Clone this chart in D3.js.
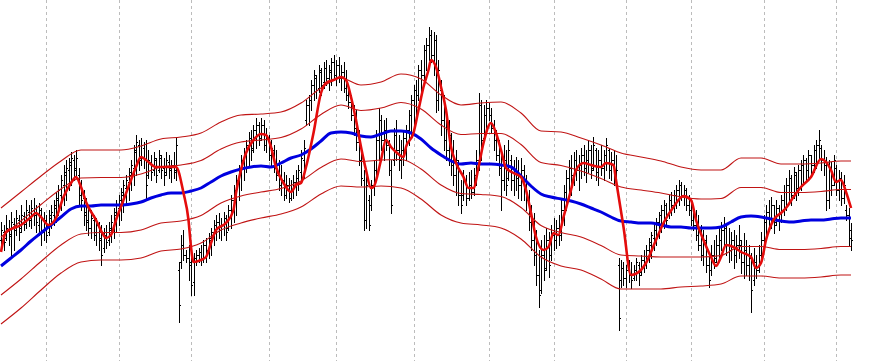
<!DOCTYPE html>
<html>
<head>
<meta charset="utf-8">
<script src="https://cdnjs.cloudflare.com/ajax/libs/d3/7.8.5/d3.min.js"></script>
<style>
body{margin:0;background:#fff;}
svg{display:block;}
</style>
</head>
<body>
<script>
// price bars in points (x 0.0001): [open, high, low, close]
var bars=[
[13760,13778,13752,13770],[13768,13775,13750,13758],[13762,13785,13760,13772],[13770,13780,13755,13764],[13766,13788,13745,13778],
[13776,13782,13750,13770],[13770,13790,13765,13782],[13780,13785,13760,13768],[13772,13795,13768,13785],[13784,13788,13770,13778],
[13776,13800,13772,13790],[13788,13795,13774,13782],[13780,13800,13772,13792],[13790,13802,13775,13785],[13788,13795,13768,13778],
[13775,13797,13765,13790],[13785,13792,13755,13770],[13768,13788,13760,13780],[13778,13785,13758,13765],[13768,13790,13765,13785],
[13782,13795,13772,13788],[13785,13800,13775,13795],[13792,13808,13778,13802],[13800,13815,13785,13810],[13805,13825,13790,13820],
[13815,13835,13795,13828],[13825,13840,13800,13832],[13830,13842,13810,13838],[13835,13848,13815,13842],[13840,13845,13820,13830],
[13832,13850,13822,13842],[13825,13832,13795,13805],[13805,13820,13790,13800],[13802,13810,13775,13785],[13788,13802,13770,13778],
[13780,13795,13765,13772],[13772,13790,13762,13782],[13780,13785,13760,13765],[13768,13782,13755,13775],[13774,13778,13750,13760],
[13762,13775,13735,13745],[13752,13772,13748,13765],[13762,13775,13752,13758],[13760,13778,13755,13772],[13770,13785,13758,13778],
[13775,13792,13762,13788],[13785,13800,13768,13795],[13792,13805,13775,13800],[13795,13812,13780,13808],[13805,13820,13788,13815],
[13812,13825,13795,13820],[13818,13832,13800,13828],[13825,13840,13810,13835],[13832,13855,13815,13850],[13848,13865,13825,13858],
[13855,13860,13830,13840],[13842,13862,13835,13855],[13852,13858,13832,13840],[13840,13860,13802,13815],[13825,13850,13822,13840],
[13838,13845,13820,13828],[13830,13848,13825,13842],[13840,13842,13818,13825],[13830,13850,13828,13845],[13842,13845,13822,13830],
[13832,13842,13815,13825],[13828,13848,13825,13840],[13838,13845,13822,13832],[13830,13840,13818,13835],[13835,13848,13822,13830],
[13828,13863,13820,13855],[13730,13738,13678,13695],[13738,13765,13732,13755],[13755,13770,13740,13745],[13745,13750,13738,13742],
[13742,13755,13720,13735],[13738,13752,13705,13715],[13718,13747,13705,13742],[13742,13750,13735,13745],[13745,13752,13738,13748],
[13748,13755,13735,13742],[13742,13760,13738,13755],[13755,13762,13738,13750],[13750,13767,13742,13762],[13760,13772,13745,13768],
[13768,13780,13755,13775],[13775,13785,13760,13778],[13778,13787,13762,13770],[13770,13782,13760,13775],[13775,13788,13765,13782],
[13782,13785,13760,13768],[13772,13795,13770,13790],[13790,13805,13772,13800],[13800,13815,13778,13810],[13810,13825,13785,13820],
[13820,13835,13800,13830],[13830,13845,13810,13840],[13840,13852,13820,13848],[13848,13860,13828,13855],[13855,13868,13835,13862],
[13862,13870,13840,13850],[13852,13875,13848,13870],[13870,13882,13852,13875],[13875,13878,13855,13860],[13862,13882,13860,13875],
[13875,13880,13850,13855],[13855,13872,13848,13865],[13862,13865,13840,13845],[13845,13860,13835,13852],[13850,13855,13828,13832],
[13832,13850,13820,13825],[13825,13840,13810,13815],[13815,13835,13805,13820],[13820,13828,13800,13805],[13805,13825,13802,13815],
[13815,13822,13798,13802],[13802,13820,13800,13810],[13810,13825,13802,13818],[13818,13830,13805,13822],[13822,13835,13810,13830],
[13828,13850,13818,13842],[13840,13860,13822,13852],[13880,13900,13875,13895],[13895,13905,13875,13900],[13900,13920,13890,13915],
[13915,13930,13900,13925],[13922,13925,13902,13910],[13912,13935,13908,13930],[13928,13932,13905,13915],[13918,13938,13912,13932],
[13932,13940,13915,13922],[13922,13935,13910,13930],[13928,13942,13915,13938],[13938,13945,13920,13925],[13925,13940,13915,13935],
[13935,13943,13918,13922],[13922,13935,13910,13928],[13928,13938,13908,13912],[13912,13930,13900,13905],[13905,13915,13892,13898],
[13898,13905,13880,13885],[13885,13895,13865,13872],[13872,13890,13850,13858],[13858,13870,13835,13840],[13840,13855,13815,13822],
[13820,13830,13770,13780],[13780,13825,13772,13815],[13800,13805,13770,13775],[13795,13820,13790,13815],[13815,13840,13805,13830],
[13830,13870,13825,13860],[13860,13892,13840,13880],[13880,13885,13850,13860],[13860,13880,13840,13870],[13870,13882,13850,13855],
[13855,13860,13825,13830],[13830,13840,13787,13795],[13840,13872,13835,13865],[13865,13880,13840,13850],[13850,13865,13830,13840],
[13840,13860,13822,13850],[13850,13870,13835,13862],[13862,13875,13840,13870],[13870,13890,13855,13885],[13885,13905,13865,13900],
[13900,13915,13875,13910],[13910,13920,13885,13905],[13905,13935,13900,13930],[13930,13940,13905,13925],[13925,13955,13920,13950],
[13950,13962,13930,13955],[13955,13973,13940,13965],[13965,13970,13938,13945],[13945,13968,13925,13960],[13960,13965,13888,13900],
[13900,13940,13890,13930],[13910,13920,13865,13880],[13880,13905,13850,13860],[13860,13890,13840,13850],[13850,13880,13835,13865],
[13860,13867,13825,13835],[13835,13860,13815,13825],[13825,13850,13805,13840],[13835,13840,13795,13805],[13805,13820,13787,13795],
[13805,13830,13800,13820],[13820,13825,13795,13802],[13802,13828,13800,13815],[13815,13830,13802,13808],[13808,13832,13805,13825],
[13825,13850,13815,13840],[13840,13907,13830,13895],[13895,13900,13840,13860],[13862,13895,13860,13885],[13885,13900,13870,13892],
[13892,13897,13880,13885],[13885,13892,13867,13872],[13872,13880,13850,13860],[13860,13870,13840,13845],[13845,13860,13825,13832],
[13832,13850,13790,13820],[13820,13855,13810,13840],[13840,13850,13805,13815],[13822,13860,13820,13850],[13840,13845,13810,13820],
[13820,13840,13805,13830],[13830,13843,13810,13822],[13822,13840,13802,13815],[13815,13842,13800,13830],[13830,13835,13800,13810],
[13810,13825,13790,13800],[13800,13810,13770,13778],[13778,13795,13750,13760],[13760,13787,13735,13745],[13745,13770,13715,13725],
[13725,13750,13693,13705],[13710,13760,13707,13745],[13745,13765,13720,13730],[13732,13772,13730,13760],[13760,13768,13723,13735],
[13745,13775,13740,13765],[13765,13782,13750,13760],[13760,13780,13752,13772],[13772,13785,13755,13765],[13765,13800,13760,13790],
[13790,13815,13775,13808],[13808,13830,13790,13822],[13822,13840,13800,13832],[13832,13845,13805,13825],[13825,13848,13815,13840],
[13840,13850,13820,13830],[13830,13845,13810,13835],[13835,13852,13822,13845],[13845,13855,13825,13832],[13832,13850,13818,13840],
[13840,13860,13828,13850],[13850,13855,13822,13830],[13832,13863,13830,13855],[13850,13852,13820,13828],[13828,13850,13815,13840],
[13840,13855,13825,13832],[13832,13850,13820,13845],[13845,13862,13830,13855],[13850,13852,13822,13830],[13830,13848,13820,13840],
[13840,13850,13815,13822],[13822,13845,13815,13830],[13735,13742,13670,13682],[13720,13740,13713,13732],[13732,13738,13715,13722],
[13722,13735,13713,13730],[13730,13740,13718,13725],[13725,13738,13712,13720],[13722,13735,13720,13730],[13730,13742,13720,13738],
[13735,13738,13715,13725],[13728,13745,13725,13740],[13740,13750,13728,13735],[13738,13755,13732,13750],[13750,13762,13738,13758],
[13755,13768,13742,13765],[13762,13775,13750,13770],[13770,13782,13755,13778],[13778,13788,13762,13785],[13785,13795,13768,13790],
[13790,13800,13772,13795],[13795,13797,13775,13780],[13785,13805,13782,13800],[13800,13808,13785,13795],[13795,13810,13788,13805],
[13805,13815,13792,13810],[13810,13820,13795,13815],[13815,13818,13800,13805],[13805,13815,13795,13810],[13810,13812,13790,13795],
[13795,13805,13785,13790],[13790,13797,13775,13780],[13780,13795,13770,13775],[13775,13790,13760,13765],[13765,13785,13750,13755],
[13755,13775,13740,13745],[13745,13770,13735,13760],[13760,13765,13728,13735],[13735,13743,13713,13720],[13730,13755,13725,13745],
[13745,13760,13732,13738],[13742,13765,13738,13755],[13755,13772,13742,13760],[13760,13778,13750,13770],[13770,13783,13752,13775],
[13772,13775,13745,13755],[13755,13772,13738,13750],[13750,13768,13740,13760],[13760,13770,13732,13745],[13745,13765,13738,13755],
[13755,13775,13742,13760],[13755,13760,13727,13738],[13738,13767,13722,13750],[13750,13760,13725,13735],[13735,13755,13720,13742],
[13742,13747,13688,13710],[13720,13752,13715,13738],[13738,13745,13722,13730],[13730,13755,13728,13745],[13745,13768,13738,13760],
[13760,13785,13755,13778],[13778,13795,13765,13788],[13788,13800,13770,13782],[13782,13803,13772,13795],[13795,13795,13767,13775],
[13778,13800,13775,13792],[13792,13795,13770,13780],[13780,13805,13778,13800],[13800,13815,13785,13808],[13808,13822,13790,13815],
[13815,13830,13797,13822],[13822,13825,13795,13805],[13805,13833,13802,13828],[13825,13828,13800,13812],[13812,13835,13805,13830],
[13830,13840,13810,13835],[13835,13845,13815,13840],[13840,13842,13820,13830],[13830,13850,13822,13845],[13845,13845,13825,13835],
[13835,13855,13828,13850],[13850,13860,13832,13855],[13855,13870,13840,13860],[13852,13855,13830,13840],[13840,13850,13825,13835],
[13835,13843,13790,13800],[13800,13840,13792,13830],[13830,13838,13805,13815],[13815,13845,13815,13840],[13832,13835,13805,13810],
[13810,13830,13800,13822],[13822,13828,13795,13802],[13802,13825,13797,13815],[13790,13795,13780,13785],[13785,13792,13755,13762],
[13770,13777,13750,13760]
];

// bar index where each new period starts (dashed separators)
var periodStarts=[18,47,76,107,134,165,195,221,250,276,305,334];

// slow moving average, one value every 4 bars
var maLine=[
13734,13742,13750,13759,13767,13775,13783,13791,13794,13794,
13795,13795,13795,13796,13798,13802,13805,13807,13807,13809,
13812,13818,13824,13828,13831,13833,13834,13833,13837,13842,
13845,13851,13859,13867,13868,13867,13864,13863,13866,13869,
13869,13867,13861,13852,13845,13839,13836,13837,13836,13836,
13835,13833,13824,13814,13806,13803,13801,13799,13796,13792,
13788,13783,13779,13778,13777,13777,13775,13773,13773,13772,
13772,13772,13773,13778,13783,13784,13783,13781,13779,13778,
13779,13780,13780,13781,13782,13782
];

// fast smoothed close: [bar index, value]
var smoothLine=[
[0,13748],[2,13768],[8,13775],[12,13783],[14,13787],[16,13783],[19,13775],[22,13782],[25,13803],[28,13817],
[30,13823],[32,13813],[34,13798],[38,13780],[41,13765],[42,13762],[44,13765],[46,13780],[49,13800],[52,13820],
[54,13833],[56,13843],[58,13840],[62,13833],[66,13833],[70,13833],[73,13807],[75,13780],[76,13753],[77,13738],
[80,13740],[82,13743],[84,13757],[86,13770],[90,13777],[93,13790],[94,13807],[96,13830],[98,13847],[101,13860],
[104,13866],[106,13865],[108,13853],[110,13833],[113,13817],[116,13808],[118,13815],[120,13817],[122,13833],[125,13867],
[128,13907],[130,13917],[133,13920],[136,13923],[138,13920],[140,13903],[142,13880],[144,13853],[146,13830],[148,13812],
[149,13813],[152,13840],[154,13860],[156,13853],[158,13848],[161,13843],[162,13853],[165,13867],[167,13890],[169,13913],
[171,13930],[172,13940],[174,13933],[176,13913],[178,13890],[180,13853],[182,13837],[185,13823],[187,13812],[189,13812],
[191,13833],[193,13857],[196,13877],[198,13867],[200,13850],[202,13832],[205,13827],[208,13823],[210,13810],[212,13787],
[214,13763],[217,13750],[219,13753],[221,13767],[223,13765],[225,13783],[228,13810],[230,13830],[233,13837],[236,13835],
[240,13833],[242,13837],[245,13835],[246,13820],[249,13773],[252,13725],[256,13730],[258,13737],[262,13760],[265,13777],
[269,13793],[273,13804],[276,13800],[278,13780],[281,13760],[284,13743],[286,13734],[288,13743],[290,13755],[293,13753],
[296,13748],[300,13743],[302,13732],[304,13737],[306,13760],[309,13780],[312,13787],[314,13792],[317,13803],[320,13813],
[324,13823],[328,13841],[330,13838],[332,13830],[334,13818],[336,13820],[338,13808],[340,13792]
];

// channel half-width in points, every 8 bars (last one at bar 340)
var bandWidth=[
29,29,28.5,28,28,27.5,27.5,28,28,28,
27.5,27,27,26,25.5,26,26.5,27,25.5,26,
28.5,30,30,29.5,30.5,31.5,31.5,31.5,33.5,33,
33.5,34,33,32,30,29,28.5,29.5,29.5,28.5,
28.5,28.5,28.5,28.5
];
var bandLevels=[-2,-1,1,2];

var drawChart=function(w,h)
{
  var svg=d3.select("body").append("svg")
            .attr("width",w)
            .attr("height",h);

  svg.append("rect")
     .attr("width",w)
     .attr("height",h)
     .attr("fill","#ffffff");

  var xScale=d3.scaleLinear()
               .domain([0,bars.length-1])
               .range([1,851]);
  var yScale=d3.scaleLinear()
               .domain([13639,14000])
               .range([h,0]);
  var px=function(i){return Math.round(xScale(i))+0.5;};
  var py=function(v){return Math.round(yScale(v))+0.5;};

  //period separators
  svg.append("g").classed("grid",true)
     .selectAll("line")
     .data(periodStarts)
     .enter()
     .append("line")
     .attr("x1",function(d){return px(d);})
     .attr("x2",function(d){return px(d);})
     .attr("y1",0)
     .attr("y2",h)
     .attr("stroke","#bcbcbc")
     .attr("stroke-dasharray","3,3")
     .attr("shape-rendering","crispEdges");

  //bars, short ticks for open / close
  svg.append("g").classed("bars",true)
     .selectAll("path")
     .data(bars)
     .enter()
     .append("path")
     .attr("d",function(d,i){
       var x=px(i);
       return "M"+x+","+(py(d[1])-0.5)+"V"+(py(d[2])+0.5)
             +"M"+(x-1.5)+","+py(d[0])+"H"+x
             +"M"+x+","+py(d[3])+"H"+(x+1.5);
     })
     .attr("stroke","#000000")
     .attr("stroke-width",1)
     .attr("fill","none")
     .attr("shape-rendering","crispEdges");

  //channel lines around the average
  var bandPoints=bandWidth.map(function(wd,j){
    var i=j<bandWidth.length-1 ? j*8 : bars.length-1;
    return {i:i,mid:maLine[i/4],w:wd};
  });
  var bandLine=function(k){
    return d3.line()
             .x(function(d){return xScale(d.i);})
             .y(function(d){return yScale(d.mid+k*d.w);})
             .curve(d3.curveMonotoneX);
  };
  svg.append("g").classed("bands",true)
     .selectAll("path")
     .data(bandLevels)
     .enter()
     .append("path")
     .attr("d",function(k){return bandLine(k)(bandPoints);})
     .attr("fill","none")
     .attr("stroke","#c01414")
     .attr("stroke-width",1.1);

  //slow average
  var maLineGen=d3.line()
                  .x(function(d,i){return xScale(i*4);})
                  .y(function(d){return yScale(d);})
                  .curve(d3.curveMonotoneX);
  svg.append("path")
     .attr("d",maLineGen(maLine))
     .attr("fill","none")
     .attr("stroke","#0000e0")
     .attr("stroke-width",3);

  //fast smoothed line
  var smoothGen=d3.line()
                  .x(function(d){return xScale(d[0]);})
                  .y(function(d){return yScale(d[1]);})
                  .curve(d3.curveMonotoneX);
  svg.append("path")
     .attr("d",smoothGen(smoothLine))
     .attr("fill","none")
     .attr("stroke","#e40c0c")
     .attr("stroke-width",2.6)
     .attr("stroke-linejoin","round");
};

drawChart(884,361);
</script>
</body>
</html>
